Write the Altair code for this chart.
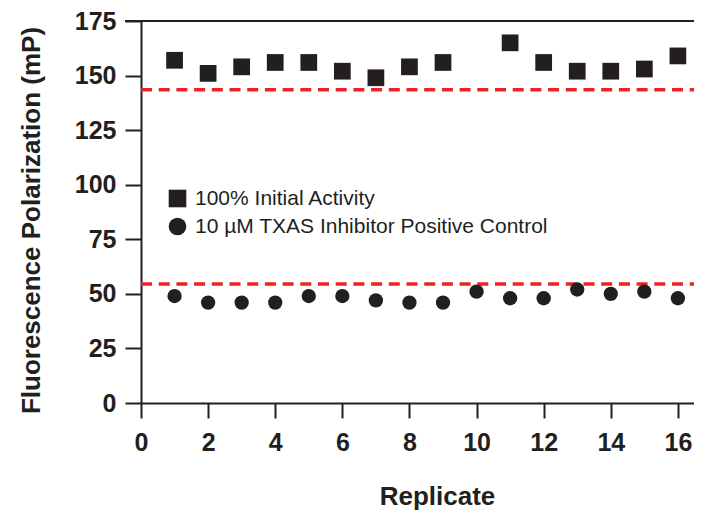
import altair as alt
import pandas as pd

replicates_sq = [1, 2, 3, 4, 5, 6, 7, 8, 9, 11, 12, 13, 14, 15, 16]
values_sq = [157, 151, 154, 156, 156, 152, 149, 154, 156, 165, 156, 152, 152, 153, 159]
replicates_ci = [1, 2, 3, 4, 5, 6, 7, 8, 9, 10, 11, 12, 13, 14, 15, 16]
values_ci = [49, 46, 46, 46, 49, 49, 47, 46, 46, 51, 48, 48, 52, 50, 51, 48]
series_names = ["100% Initial Activity", "10 µM TXAS Inhibitor Positive Control"]
ref_lines = [143.5, 54.5]
x_ticks = [0, 2, 4, 6, 8, 10, 12, 14, 16]
y_ticks = [i * 12.5 for i in range(15)]

INK = "#231f20"
RED = "#ed2224"
W, H = 553, 382

df_sq = pd.DataFrame({"rep": replicates_sq, "val": values_sq, "series": series_names[0]})
df_ci = pd.DataFrame({"rep": replicates_ci, "val": values_ci, "series": series_names[1]})
df_ref = pd.DataFrame({"y": ref_lines})

xscale = alt.Scale(domain=[0, 16.48], nice=False, zero=False)
yscale = alt.Scale(domain=[0, 175], nice=False)

xaxis = alt.Axis(
    values=x_ticks, title="Replicate", labelFont="Liberation Sans", labelFontWeight="bold",
    labelFontSize=25, labelColor=INK, labelPadding=12, tickSize=15, tickWidth=2, tickColor=INK,
    domainColor=INK, domainWidth=2, grid=False, titleFont="Liberation Sans", titleFontWeight="bold",
    titleFontSize=26, titleColor=INK, titleX=296, titleY=101, titleBaseline="alphabetic",
    titleAnchor="start", titleAlign="center", labelFlush=False,
)
yaxis = alt.Axis(
    values=y_ticks, title="Fluorescence Polarization (mP)", labelFont="Liberation Sans",
    labelFontWeight="bold", labelFontSize=25, labelColor=INK, labelPadding=9,
    labelExpr="datum.value % 25 === 0 ? datum.label : ''",
    tickSize={"condition": {"test": "datum.value % 25 === 0", "value": 16}, "value": 9},
    tickWidth=2, tickColor=INK, domainColor=INK, domainWidth=2, grid=False,
    titleFont="Liberation Sans", titleFontWeight="bold", titleFontSize=26, titleColor=INK,
    titleAngle=-90, titleX=-110, titleY=199, titleAlign="center", titleBaseline="middle",
    titleAnchor="start", labelFlush=False,
)

shape_scale = alt.Scale(domain=series_names, range=["square", "circle"])
legend = alt.Legend(
    title=None, orient="none", legendX=26, legendY=167, padding=0, symbolSize=310,
    symbolFillColor=INK, symbolStrokeColor=INK, symbolStrokeWidth=0, labelFont="Liberation Sans",
    labelFontSize=21, labelColor=INK, labelOffset=7, rowPadding=6, labelLimit=0,
)

sq = alt.Chart(df_sq).mark_point(filled=True, size=280, color=INK, opacity=1).encode(
    x=alt.X("rep:Q", scale=xscale, axis=xaxis),
    y=alt.Y("val:Q", scale=yscale, axis=yaxis),
    shape=alt.Shape("series:N", scale=shape_scale, legend=legend),
)
ci = alt.Chart(df_ci).mark_point(filled=True, size=205, color=INK, opacity=1).encode(
    x=alt.X("rep:Q", scale=xscale),
    y=alt.Y("val:Q", scale=yscale),
    shape=alt.Shape("series:N", scale=shape_scale),
)
refs = alt.Chart(df_ref).mark_rule(color=RED, strokeWidth=3.5, strokeDash=[11, 6.7]).encode(
    y=alt.Y("y:Q", scale=yscale), x=alt.value(0), x2=alt.value(W)
)
top = alt.Chart(pd.DataFrame({"y": [175]})).mark_rule(color=INK, strokeWidth=2).encode(
    y=alt.Y("y:Q", scale=yscale), x=alt.value(-16), x2=alt.value(W)
)

chart = alt.layer(refs, top, sq, ci).properties(
    width=W, height=H,
    autosize=alt.AutoSizeParams(type="none"),
    padding={"left": 133, "top": 13, "right": 0, "bottom": 107},
).configure_view(stroke=None).configure(background="white")

chart.save("out.html", embed_options={"renderer": "svg", "actions": False})
